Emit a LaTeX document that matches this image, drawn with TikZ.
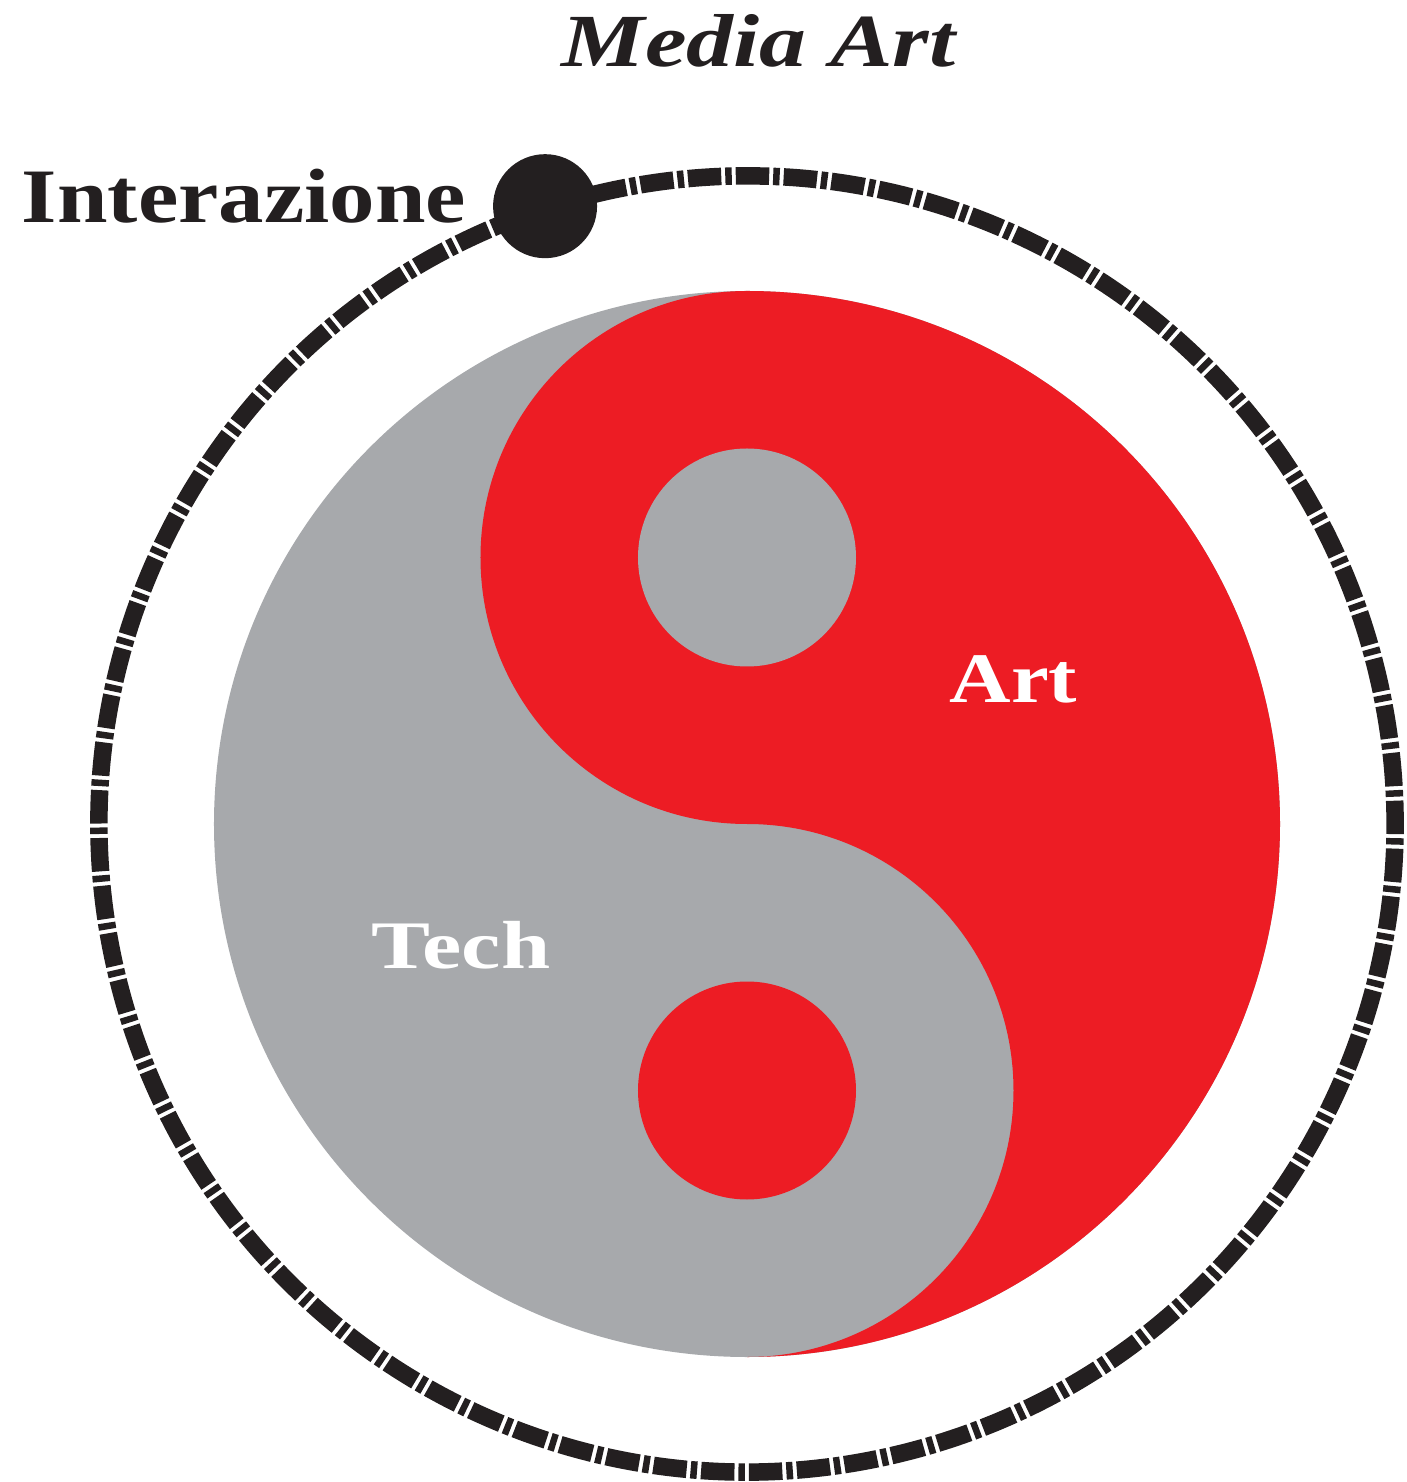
\documentclass[tikz,border=0pt]{standalone}
\usepackage{fontspec}
\setmainfont{Liberation Serif}

\definecolor{artred}{HTML}{ED1C24}
\definecolor{techgray}{HTML}{A7A9AC}
\definecolor{inkblack}{HTML}{231F20}

\begin{document}
\begin{tikzpicture}[x=1pt,y=1pt,
    tag/.style={anchor=base, inner sep=0pt, font=\bfseries\fontsize{#1}{#1}\selectfont}]
    \useasboundingbox (-747,-658) rectangle (660,824);

    % yin and yang
    \fill[techgray] (0,0) circle (533);
    \fill[artred] (0,533) arc[start angle=90, end angle=-90, radius=533]
        arc[start angle=-90, end angle=90, radius=266.5]
        arc[start angle=-90, end angle=-270, radius=266.5] -- cycle;
    \fill[techgray] (0,266.5) circle (109);
    \fill[artred] (0,-266.5) circle (109);

    % orbit
    \draw[inkblack, line width=17.5pt, dash pattern=on 33.4pt off 4pt on 6.5pt off 4pt]
        (103.7:648) arc[start angle=103.7, end angle=-256.3, radius=648];
    \node[circle, fill=inkblack, minimum size=104pt, inner sep=0pt] (hub) at (108.1:650) {};

    \node[tag=75, text=inkblack] (media) at (11.5,757) {\itshape\scalebox{1.25}[1]{Media Art}};
    \node[tag=77, text=inkblack] (inter) at (-503,601) {\scalebox{1.18}[1]{Interazione}};
    \node[tag=71, text=white] (art) at (266.5,121) {\scalebox{1.2}[1]{Art}};
    \node[tag=68, text=white] (tech) at (-286,-144) {\scalebox{1.3}[1]{Tech}};

\end{tikzpicture}
\end{document}
